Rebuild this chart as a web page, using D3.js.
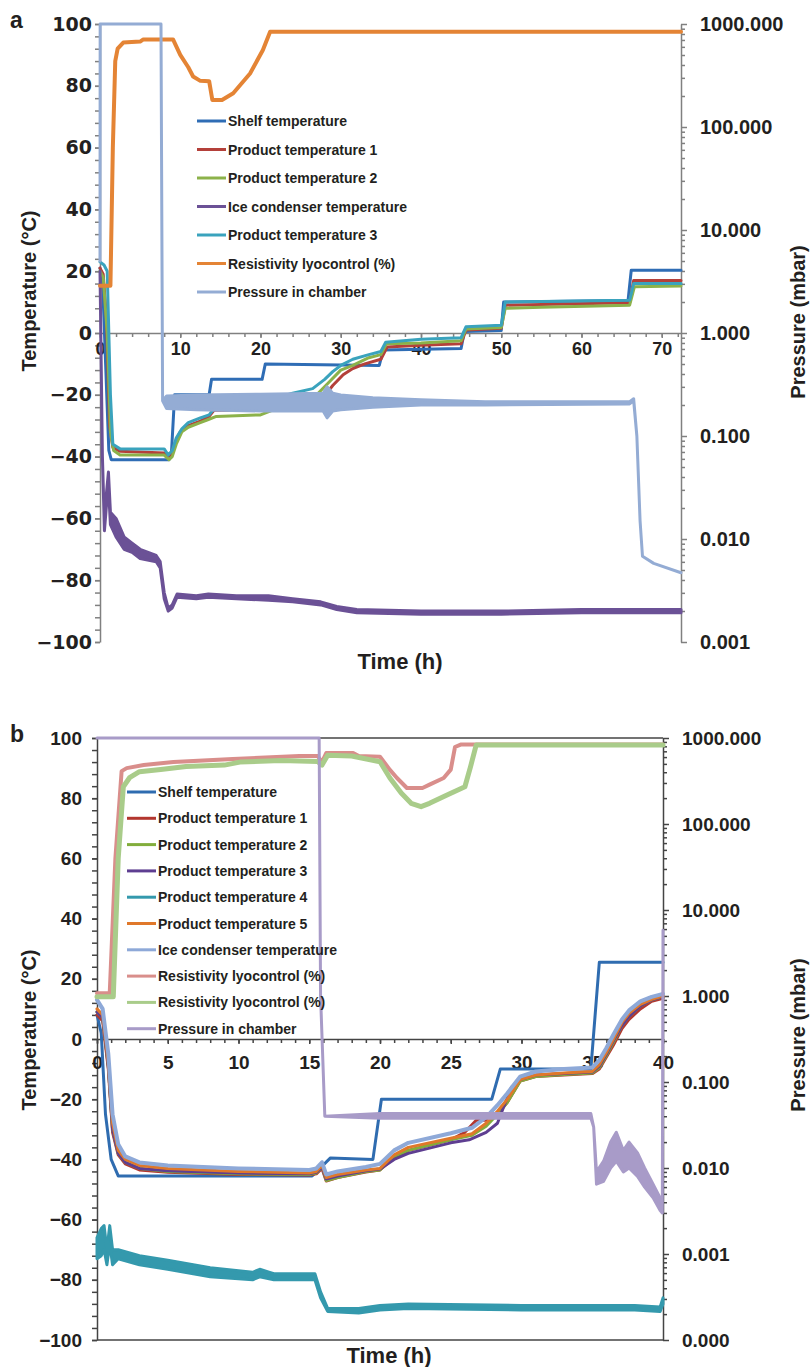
<!DOCTYPE html>
<html>
<head>
<meta charset="utf-8">
<script src="https://cdn.jsdelivr.net/npm/d3@7"></script>
<style>
  body { margin: 0; background: #fff; }
  text { font-family: "Liberation Sans", Arial, sans-serif; font-weight: bold; fill: #231f20; }
</style>
</head>
<body>
<script>
// ---- panel a data: [time h, value] or [time h, low, high] for noisy stretches
var shelfA = [[0,21],[0.3,18],[0.7,-10],[1.1,-38],[1.4,-41],[8.6,-41],[8.9,-39],[9.3,-20],[13.6,-20],[13.9,-15],[20.2,-15],[20.6,-10],[34.8,-10.5],[35.3,-5.5],[45,-5],[45.4,0.5],[50,0.8],[50.3,10],[65.8,10.5],[66.2,20.3],[72.4,20.3]];
var prod1A = [[0,21],[0.4,19],[0.8,5],[1.2,-30],[1.6,-37],[2.5,-38.3],[8,-38.8],[8.4,-40],[8.8,-39.5],[9.3,-36],[10,-32],[11,-30],[12.5,-28.5],[13.6,-27],[14.2,-25],[20,-25],[22,-24],[24,-23],[26.5,-22.5],[27.8,-21],[29,-17],[30.3,-13.5],[31.5,-11.5],[33,-10],[35,-8.5],[35.8,-4.5],[40,-4],[45,-3.5],[45.6,1],[50,1.5],[50.5,9],[55,9.2],[66,9.8],[66.5,17],[72.4,17]];
var prod2A = [[0,20],[0.4,18],[0.9,0],[1.3,-32],[1.7,-38],[2.5,-39.5],[8,-39.5],[8.6,-41],[9,-40],[9.5,-36],[10.2,-32],[11,-30.5],[12.5,-29],[13.5,-28],[14.5,-27],[20,-26.5],[22,-24.5],[25,-22],[27,-20],[28.5,-16],[30,-12],[31.5,-10.5],[33.5,-8],[35,-7],[35.7,-3.5],[40,-3.2],[45,-2.5],[45.6,1.3],[50,1.8],[50.5,8],[55,8.3],[66,9],[66.6,15],[72.4,15.2]];
var iceA = [[0,20,20],[0.3,-40,-40],[0.55,-64,-62],[0.8,-56,-52],[1.05,-50,-45],[1.3,-62,-58],[2,-66,-60],[3,-70,-66],[4,-71,-68],[5,-73,-70],[7,-74,-72],[7.5,-76,-74],[8,-86,-84],[8.5,-90,-89],[9,-89,-88],[9.6,-85.5,-84.5],[12,-86,-85],[13.5,-85.5,-84.5],[17,-86,-85],[21,-86.5,-85],[24,-87,-86],[27.5,-88,-87],[29.5,-89.5,-88.5],[32,-90.5,-89.5],[40,-91,-90],[50,-91,-90],[60,-90.5,-89.5],[72.4,-90.5,-89.5]];
var prod3A = [[0,23],[0.5,22],[0.9,20],[1.3,-20],[1.6,-36],[2.5,-37.5],[8,-37.5],[8.5,-39.5],[9,-38],[9.5,-34],[10.2,-31],[11,-29],[12.5,-27.5],[13.6,-26.5],[14.2,-24.5],[20,-23.5],[22,-21],[24,-19.5],[26.5,-18],[28,-15],[29,-12.5],[30,-10.5],[31.5,-8.5],[33.5,-7],[35,-6],[35.6,-3],[40,-2],[45,-1.5],[45.6,2],[50,2.5],[50.5,10],[55,10.2],[66,10.6],[66.5,16],[72.4,16]];
var resistA = [[0,15.3],[1.3,15.3],[1.6,60],[1.9,88],[2.2,92],[2.9,94],[5,94.3],[5.4,95],[9.1,95],[10,90],[11,86],[11.6,83],[12.5,81.6],[13.6,81.5],[14,75.4],[15.2,75.4],[16.6,77.6],[18.7,84],[20.3,91.6],[21.2,97.5],[72.4,97.5]];
var pressA = [[0,5,5],[0.02,1000,1000],[7.6,1000,1000],[7.8,0.22,0.22],[8.3,0.185,0.245],[12,0.18,0.25],[20,0.175,0.255],[27.8,0.175,0.26],[28.3,0.15,0.3],[29,0.175,0.26],[30,0.18,0.25],[34,0.19,0.235],[40,0.2,0.225],[48,0.2,0.215],[66,0.205,0.215],[66.5,0.22,0.23],[66.9,0.1,0.1],[67.3,0.015,0.015],[67.6,0.0068,0.0068],[69,0.0058,0.0058],[72.4,0.0047,0.0047]];

// ---- panel b data
var shelfB = [[0,8],[0.3,2],[0.6,-25],[1,-40],[1.5,-45.5],[15.2,-45.5],[16.5,-39.5],[19.5,-40],[20.1,-20],[27.9,-20],[28.5,-10],[34.9,-10],[35.5,25.5],[40,25.5]];
var prod1B = [[0,8],[0.4,6],[0.8,-10],[1.1,-31],[1.5,-38.5],[2,-41.5],[3,-43.5],[5,-44.3],[10,-45],[15,-45.2],[15.5,-44.8],[15.9,-43],[16.2,-47.2],[17,-46],[19,-44.2],[20,-43.5],[21,-39.5],[22,-37],[25,-33.5],[26,-31],[26.8,-27],[27.5,-27],[28.3,-25],[29,-21],[29.9,-14],[31,-12.5],[33,-12],[35,-11.5],[35.5,-10],[36,-6],[36.5,-2],[37.1,3.5],[37.6,6.5],[38.4,10],[39.2,12.5],[40,13.5]];
var prod2B = [[0,9],[0.4,7],[0.8,-9],[1.1,-30],[1.5,-38],[2,-41],[3,-43],[5,-44],[10,-44.8],[15,-45],[15.5,-44.5],[15.9,-42.5],[16.2,-47],[17,-46],[19,-44],[20,-43.5],[21,-39],[22,-37],[25,-33.5],[26.5,-32],[27.5,-29],[28.3,-25],[29,-21],[29.9,-14],[31,-12.5],[33,-11.8],[35,-11.3],[35.5,-9.5],[36,-5.5],[36.5,-1],[37.1,4.5],[37.6,7.5],[38.4,11],[39.2,13],[40,14]];
var prod3B = [[0,9],[0.4,7],[0.8,-9],[1.1,-30],[1.5,-38],[2,-41],[3,-43],[5,-43.8],[10,-44.5],[15,-44.8],[15.5,-44.3],[15.9,-42.5],[16.2,-46.5],[17,-45.5],[19,-43.8],[20,-43.2],[21,-40],[22,-38],[25,-34.5],[26.3,-33.5],[27.5,-31],[28.3,-28],[28.7,-23],[29.3,-16],[29.9,-13.5],[31,-12],[33,-11.5],[35,-11],[35.5,-9],[36,-5],[36.5,-0.5],[37.1,4.5],[37.6,7.5],[38.4,11],[39.2,13],[40,14]];
var prod4B = [[0,-73,-66],[0.3,-72,-63],[0.5,-70,-62],[0.7,-75,-70],[0.9,-68,-62],[1.1,-75,-70],[1.5,-73,-70],[3,-75,-72],[5,-76.5,-73.5],[8,-79,-76],[11,-80,-77.5],[11.5,-79,-76.5],[12.5,-80,-78],[15.4,-80,-78],[15.8,-86,-84],[16.3,-90.5,-89.5],[18.5,-91,-89.5],[20,-90,-88.5],[22,-89.5,-88],[30,-90,-88.5],[38,-90,-88.5],[39.8,-90.5,-89],[40,-88,-86]];
var prod5B = [[0,10],[0.4,8],[0.8,-8],[1.1,-28],[1.5,-37],[2,-40],[3,-42],[5,-43],[10,-44],[15,-44.5],[15.5,-44],[15.9,-42],[16.2,-46],[17,-45],[19,-43.5],[20,-43],[21,-38.5],[22,-36],[25,-33],[26.5,-31.5],[27.5,-28],[28.3,-24],[29,-20],[29.9,-13.5],[31,-12],[33,-11.3],[35,-10.8],[35.5,-8.5],[36,-4.5],[36.5,0],[37.1,5.5],[37.6,8.5],[38.4,11.5],[39.2,13.2],[40,14.3]];
var iceB = [[0,13],[0.4,10],[0.8,-5],[1.1,-25],[1.5,-35],[2,-39],[3,-41],[5,-42],[10,-43],[15,-43.5],[15.5,-43],[15.9,-41],[16.2,-45],[17,-44],[19,-42.5],[20,-41.5],[21,-37],[22,-34.5],[25,-31.3],[26.5,-29.5],[27.5,-26],[28.3,-22],[29,-18],[29.9,-12.5],[31,-10.8],[33,-10],[35,-9.5],[35.5,-7],[36,-3],[36.5,1.5],[37.1,6.5],[37.6,9.5],[38.4,12.5],[39.2,14],[40,15]];
var resist1B = [[0,15.2],[0.9,15.2],[1.3,60],[1.74,89],[2.1,90],[3.3,91],[5.4,92],[9.6,93],[14.3,94],[15.6,94],[15.9,92],[16.2,95],[18.1,95],[18.5,94],[20,93.8],[20.7,89.4],[21.2,86.7],[21.9,83.4],[23,83.4],[23.5,84.5],[24.5,86.7],[25,89.5],[25.3,97],[25.7,97.8],[40,97.8]];
var resist2B = [[0,14],[1.15,14],[1.5,60],[1.86,83.8],[2.3,86.8],[3,88.8],[4.5,89.5],[6.3,90.5],[9,91],[10.1,92],[13,92.5],[15.6,92.2],[15.9,91],[16.3,94.3],[18,94],[20,92.1],[20.7,86.7],[21.5,81.7],[22.2,78.3],[22.9,77.2],[23.5,78.3],[24.7,81],[26,83.8],[26.4,90.5],[26.8,97.7],[40,97.7]];
var pressB = [[0,1000,1000],[15.7,1000,1000],[15.8,1,1],[16.1,0.04,0.04],[20,0.038,0.043],[34.9,0.038,0.043],[35.1,0.03,0.03],[35.3,0.0065,0.009],[35.8,0.007,0.012],[36.3,0.01,0.02],[36.7,0.012,0.026],[37.2,0.009,0.016],[37.6,0.01,0.02],[38.2,0.008,0.015],[38.7,0.006,0.01],[39.3,0.0045,0.0065],[39.8,0.0032,0.0045],[39.95,0.003,0.003],[40,5.8,5.8]];

// ---- ticks
var tempTicks = [-100,-80,-60,-40,-20,0,20,40,60,80,100];
var timeTicksA = [0,10,20,30,40,50,60,70];
var timeTicksB = [0,5,10,15,20,25,30,35,40];
var pressTicksA = [0.001,0.01,0.1,1,10,100,1000];
var pressTicksB = [0.0001,0.001,0.01,0.1,1,10,100,1000];

var svg = d3.select("body").append("svg").attr("width", 812).attr("height", 1367);

function minorLog(dom) {
  var out = [];
  for (var e = Math.round(Math.log10(dom[0])); e < Math.round(Math.log10(dom[1])); e++)
    for (var k = 2; k <= 9; k++) out.push(k * Math.pow(10, e));
  return out;
}

function drawPanel(p) {
  var g = svg.append("g");
  var x = d3.scaleLinear().domain(p.xDomain).range([p.left, p.right]);
  var y = d3.scaleLinear().domain([-100, 100]).range([p.bottom, p.top]);
  var yp = d3.scaleLog().domain(p.pDomain).range([p.bottom, p.top]);

  // axes (minor ticks first, no domain path on those)
  var left = g.append("g").attr("transform", "translate(" + p.left + ",0)");
  left.append("g").call(d3.axisLeft(y).tickValues(d3.range(-100, 101, 4)).tickSize(p.tickL).tickFormat(""))
    .select(".domain").remove();
  left.append("g").call(d3.axisLeft(y).tickValues(tempTicks).tickSize(p.tickL).tickSizeOuter(0)
    .tickPadding(p.padL).tickFormat(d3.format("d")));
  left.selectAll("text").style("font-size", p.fsL + "px").style("font-family", p.fontL);

  var right = g.append("g").attr("transform", "translate(" + p.right + ",0)");
  right.append("g").call(d3.axisRight(yp).tickValues(minorLog(p.pDomain)).tickSize(4).tickFormat(""))
    .select(".domain").remove();
  right.append("g").call(d3.axisRight(yp).tickValues(p.pTicks).tickSize(6).tickSizeOuter(0)
    .tickPadding(13).tickFormat(d3.format(".3f")));
  right.selectAll("text").style("font-size", p.fsR + "px");

  var bot = g.append("g").attr("transform", "translate(0," + y(0) + ")");
  bot.append("g").call(d3.axisBottom(x).tickValues(d3.range(0, p.xDomain[1] + 0.01, p.minorX)).tickSize(4).tickFormat(""))
    .select(".domain").remove();
  bot.append("g").call(d3.axisBottom(x).tickValues(p.xTicks).tickSize(5).tickSizeOuter(0)
    .tickPadding(p.padB).tickFormat(d3.format("d")));
  bot.selectAll("text").style("font-size", p.fsB + "px");

  g.selectAll(".domain, .tick line").attr("stroke", p.axisColor).attr("stroke-width", 1.5);

  if (p.box) {
    [p.top, p.bottom].forEach(function (yy) {
      g.append("line").attr("x1", p.left).attr("x2", p.right).attr("y1", yy).attr("y2", yy)
        .attr("stroke", p.axisColor).attr("stroke-width", 1.5);
    });
  }

  // series: area between low and high, stroked so flat stretches read as lines
  p.series.forEach(function (s) {
    var sc = s.log ? yp : y;
    var area = d3.area()
      .x(function (d) { return x(d[0]); })
      .y0(function (d) { return sc(d[1]); })
      .y1(function (d) { return sc(d.length > 2 ? d[2] : d[1]); });
    g.append("path").datum(s.data).attr("d", area)
      .attr("fill", s.color).attr("stroke", s.color).attr("stroke-width", s.width || 3)
      .attr("stroke-linejoin", "round");
  });

  // legend
  var lg = g.append("g");
  p.legend.forEach(function (l, i) {
    var ly = p.legY + i * p.legStep;
    lg.append("line").attr("x1", p.legX).attr("x2", p.legX + 29).attr("y1", ly).attr("y2", ly)
      .attr("stroke", l[1]).attr("stroke-width", 3);
    lg.append("text").attr("x", p.legX + 31).attr("y", ly + 5).style("font-size", "14px").text(l[0]);
  });

  // titles
  g.append("text").attr("x", 10).attr("y", p.top + 4).style("font-size", "23px").text(p.name);
  g.append("text").attr("transform", "translate(36," + p.tempY + ") rotate(-90)")
    .attr("text-anchor", "middle").style("font-size", "20px").text("Temperature (°C)");
  g.append("text").attr("transform", "translate(805," + p.pressY + ") rotate(-90)")
    .attr("text-anchor", "middle").style("font-size", "20px").text("Pressure (mbar)");
  g.append("text").attr("x", p.timeX).attr("y", p.timeY).attr("text-anchor", "middle")
    .style("font-size", "22px").text("Time (h)");
}

drawPanel({
  name: "a", xDomain: [0, 72.4], pDomain: [0.001, 1000], pTicks: pressTicksA,
  left: 100, right: 681, top: 24, bottom: 642, xTicks: timeTicksA, minorX: 2,
  tickL: 5, padL: 3, fsL: 19, fontL: "DejaVu Sans", fsR: 20, fsB: 18, padB: 4, axisColor: "#808080",
  box: false, tempY: 291, pressY: 322, timeX: 400, timeY: 669,
  legX: 197, legY: 121, legStep: 28.5,
  series: [
    { data: shelfA, color: "#2f6db5" },
    { data: prod1A, color: "#b4403a" },
    { data: prod2A, color: "#8cb24a" },
    { data: iceA, color: "#6b5196" },
    { data: prod3A, color: "#3aa3bd" },
    { data: resistA, color: "#e48435", width: 4 },
    { data: pressA, color: "#94acd4", log: true }
  ],
  legend: [["Shelf temperature", "#2f6db5"], ["Product temperature 1", "#b4403a"], ["Product temperature 2", "#8cb24a"],
    ["Ice condenser temperature", "#6b5196"], ["Product temperature 3", "#3aa3bd"], ["Resistivity lyocontrol (%)", "#e48435"],
    ["Pressure in chamber", "#94acd4"]]
});

drawPanel({
  name: "b", xDomain: [0, 40], pDomain: [0.0001, 1000], pTicks: pressTicksB,
  left: 97, right: 663, top: 738, bottom: 1340, xTicks: timeTicksB, minorX: 1,
  tickL: 5, padL: 10, fsL: 19, fontL: "Liberation Sans", fsR: 19, fsB: 19, padB: 12, axisColor: "#444",
  box: true, tempY: 1030, pressY: 1035, timeX: 389, timeY: 1363,
  legX: 127, legY: 792, legStep: 26.3,
  series: [
    { data: shelfB, color: "#2f6cb0" },
    { data: prod1B, color: "#b3362f" },
    { data: prod2B, color: "#82ad3c" },
    { data: prod3B, color: "#5e3e91" },
    { data: prod4B, color: "#3499ad" },
    { data: prod5B, color: "#e0782a" },
    { data: iceB, color: "#8ea9d8", width: 4 },
    { data: resist1B, color: "#d98e8b", width: 4 },
    { data: resist2B, color: "#a9cc8a", width: 5 },
    { data: pressB, color: "#a89bc8", log: true }
  ],
  legend: [["Shelf temperature", "#2f6cb0"], ["Product temperature 1", "#b3362f"], ["Product temperature 2", "#82ad3c"],
    ["Product temperature 3", "#5e3e91"], ["Product temperature 4", "#3499ad"], ["Product temperature 5", "#e0782a"],
    ["Ice condenser temperature", "#8ea9d8"], ["Resistivity lyocontrol (%)", "#d98e8b"], ["Resistivity lyocontrol (%)", "#a9cc8a"],
    ["Pressure in chamber", "#a89bc8"]]
});
</script>
</body>
</html>
